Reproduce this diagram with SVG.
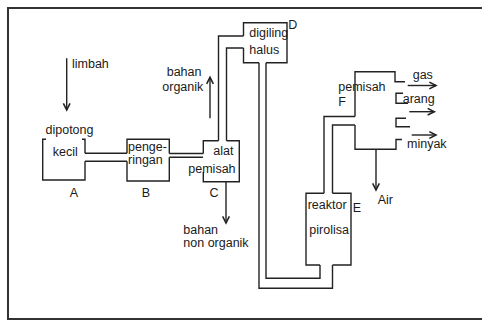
<svg xmlns="http://www.w3.org/2000/svg" width="482" height="320" viewBox="0 0 482 320">
<defs>
<marker id="ah" markerUnits="userSpaceOnUse" markerWidth="10" markerHeight="10" refX="7" refY="4" orient="auto" viewBox="0 0 9 8">
<polyline points="1,1 7,4 1,7" fill="none" stroke="#222" stroke-width="1.4"/>
</marker>
<style>
.ln{fill:none;stroke:#222;stroke-width:1.4;stroke-linejoin:miter}
.ar{fill:none;stroke:#222;stroke-width:1.4;marker-end:url(#ah)}
text{font-family:"Liberation Sans",Arial,sans-serif;font-size:12.5px;fill:#1a1a1a}
.m{text-anchor:middle}
</style>
</defs>
<rect x="0" y="0" width="482" height="320" fill="#fff"/>
<rect x="8" y="8" width="490" height="311" fill="none" stroke="#333" stroke-width="2"/>

<g id="connectors">
<path class="ln" d="M85,153.3 H127 M85,161.3 H127"/>
<path class="ln" d="M169.3,153.5 H203.3 M169.3,157.3 H203"/>
<path class="ln" d="M218.5,140.7 V36 H243.5 M226.5,140.7 V48 H243.5"/>
<path class="ln" d="M259,62.7 V288.3 H332.5 V265 M266,62.7 V278.3 H320 V265"/>
<path class="ln" d="M324,193.3 V116.5 H355 M332.5,193.3 V125 H355"/>
<path class="ar" d="M66.7,58.3 V110"/>
<path class="ar" d="M210,118.3 V77.3"/>
<path class="ar" d="M226,181.7 V223"/>
<path class="ar" d="M376,149.3 V190"/>
<path class="ar" d="M407.7,85.5 H436"/>
<path class="ar" d="M409.3,111.7 H434.3"/>
<path class="ar" d="M411.7,135 H436"/>
</g>

<g id="inputs">
<text x="72" y="68">limbah</text>
<text x="166.7" y="76">bahan</text>
<text x="162.3" y="90.5">organik</text>
<text x="183.3" y="234">bahan</text>
<text x="183.3" y="246.5">non organik</text>
<text x="377.7" y="204">Air</text>
<text x="412.7" y="78.5">gas</text>
<text x="402.7" y="102.5">arang</text>
<text x="407" y="147.5">minyak</text>
</g>

<g id="A">
<path class="ln" d="M46,139.3 H42.7 V180 H85 V161.3 M85,153.3 V139.3 H82"/>
<text x="45.5" y="133.5">dipotong</text>
<text x="52.7" y="156">kecil</text>
<text class="m" x="74" y="197">A</text>
</g>

<g id="B">
<path class="ln" d="M127,153.3 V139.3 H169.3 V153.5 M169.3,157.3 V181 H127 V161.3"/>
<text x="128" y="151">penge-</text>
<text x="128" y="164">ringan</text>
<text class="m" x="146" y="197">B</text>
</g>

<g id="C">
<path class="ln" d="M203.3,153.5 V140.7 H218.5 M226.5,140.7 H239.3 V181.7 H203.3 V172"/>
<text x="213.3" y="155">alat</text>
<text x="188.3" y="172.5">pemisah</text>
<text class="m" x="214" y="197">C</text>
</g>

<g id="D">
<path class="ln" d="M243.5,36 V22.7 H287 V62.7 H266 M259,62.7 H243.5 V48"/>
<text x="249.3" y="36.5">digiling</text>
<text x="249.3" y="54">halus</text>
<text x="288.3" y="29.3">D</text>
</g>

<g id="E">
<path class="ln" d="M324,193.3 H306 V265 H320 M332.5,265 H351 V193.3 H332.5"/>
<text x="307.7" y="209.3">reaktor</text>
<text x="309.3" y="233.5">pirolisa</text>
<text x="352.7" y="211.5">E</text>
</g>

<g id="F">
<path class="ln" d="M355,116.5 V71.7 H395 V81.7 H405 M355,125 V149.3 H396 V139.5 H402 M403,93.3 H396 V103.3 H408 M406,118.3 H396 V126.7 H410"/>
<text x="338.3" y="91">pemisah</text>
<text x="338.3" y="106">F</text>
</g>
</svg>
